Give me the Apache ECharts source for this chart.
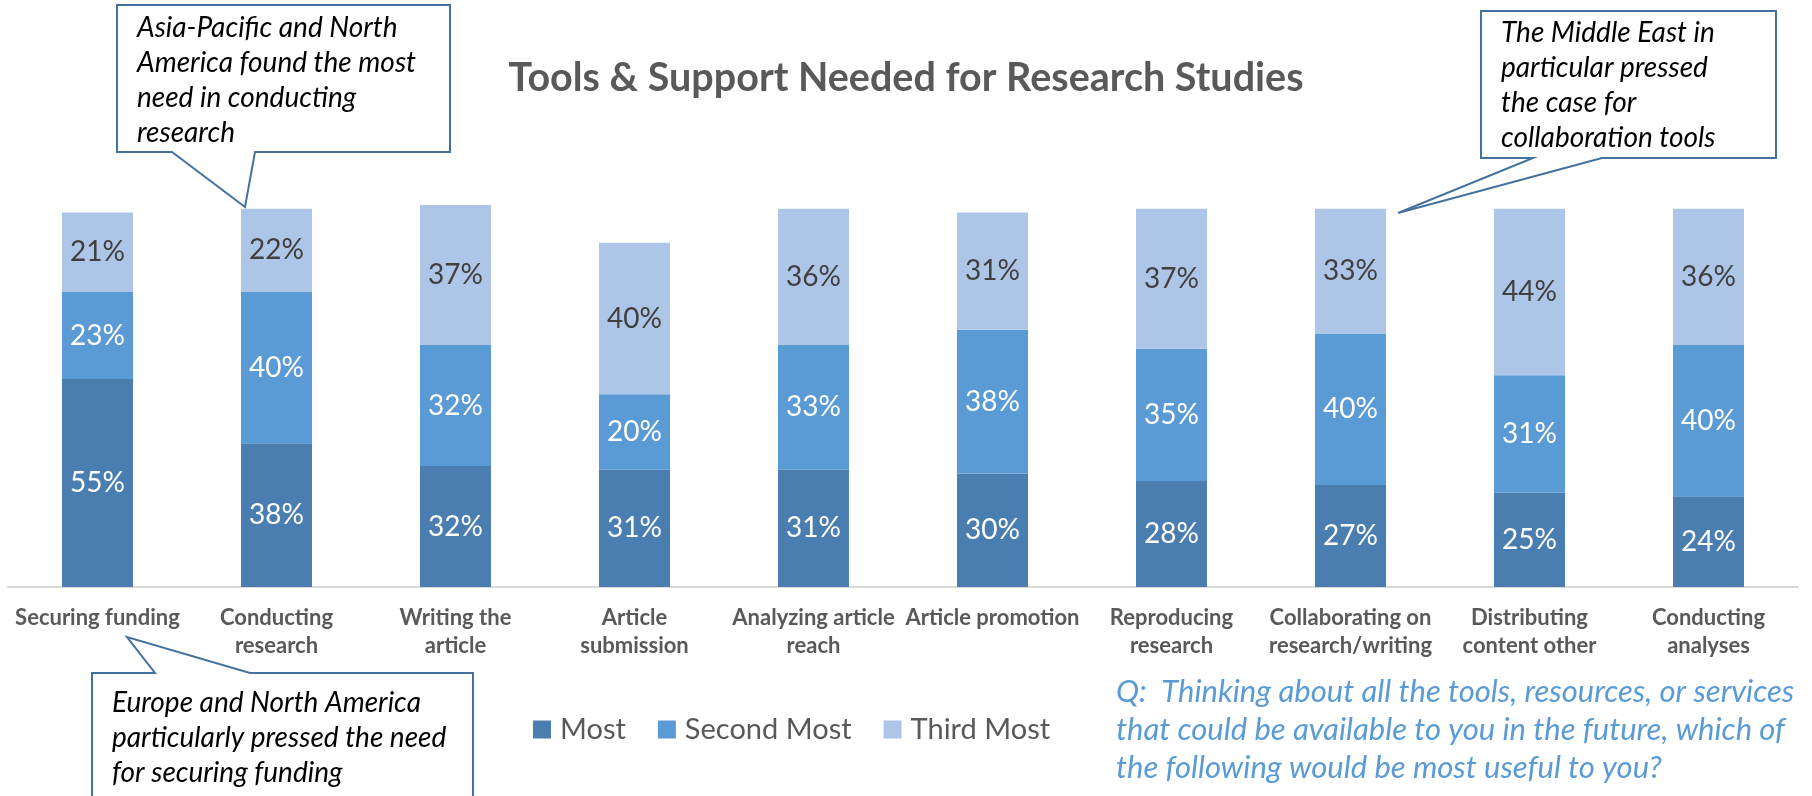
<!DOCTYPE html>
<html>
<head>
<meta charset="utf-8">
<script src="https://cdn.jsdelivr.net/npm/echarts@6/dist/echarts.min.js"></script>
<style>html,body{margin:0;padding:0;background:#fff}#c{width:1812px;height:796px}</style>
</head>
<body>
<div id="c"></div>
<script>
const categories = ['Securing funding','Conducting\nresearch','Writing the\narticle','Article\nsubmission','Analyzing article\nreach','Article promotion','Reproducing\nresearch','Collaborating on\nresearch/writing','Distributing\ncontent other','Conducting\nanalyses'];
const most = [55,38,32,31,31,30,28,27,25,24];
const secondMost = [23,40,32,20,33,38,35,40,31,40];
const thirdMost = [21,22,37,40,36,31,37,33,44,36];
const seriesNames = ['Most','Second Most','Third Most'];
const title = 'Tools & Support Needed for Research Studies';
const question = 'Q:  Thinking about all the tools, resources, or services\nthat could be available to you in the future, which of\nthe following would be most useful to you?';
const note1 = 'Asia-Pacific and North\nAmerica found the most\nneed in conducting\nresearch';
const note2 = 'The Middle East in\nparticular pressed\nthe case for\ncollaboration tools';
const note3 = 'Europe and North America\nparticularly pressed the need\nfor securing funding';

const FONT = 'Lato';
const colors = ['#4a7eb0','#5a9ad5','#adc5e6'];
const lineColor = '#44729e';

function mkSeries(name, data, color, labelColor) {
  return {
    name, type: 'bar', stack: 'total', data, barWidth: 71,
    itemStyle: { color },
    label: { show: true, position: 'inside', formatter: '{c}%', color: labelColor, fontFamily: FONT, fontSize: 28 }
  };
}

const chart = echarts.init(document.getElementById('c'));
chart.setOption({
  animation: false,
  backgroundColor: '#fff',
  title: {
    text: title, left: 'center', top: 53,
    textStyle: { fontFamily: FONT, fontSize: 39.5, fontWeight: 'bold', color: '#595959' }
  },
  legend: {
    data: seriesNames, left: 528, top: 710, icon: 'rect', itemWidth: 18, itemHeight: 18, itemGap: 32,
    textStyle: { fontFamily: FONT, fontSize: 29, color: '#595959', padding: [0,0,0,4] }
  },
  grid: { left: 8, right: 14, top: 171, bottom: 209 },
  xAxis: {
    type: 'category', data: categories,
    axisLine: { lineStyle: { color: '#d9d9d9', width: 2 } },
    axisTick: { show: false },
    axisLabel: { interval: 0, margin: 17, fontFamily: FONT, fontSize: 22, fontWeight: 'bold', color: '#595959', lineHeight: 28 }
  },
  yAxis: { type: 'value', min: 0, max: 110, show: false, splitLine: { show: false } },
  series: [
    mkSeries(seriesNames[0], most, colors[0], '#ffffff'),
    mkSeries(seriesNames[1], secondMost, colors[1], '#ffffff'),
    mkSeries(seriesNames[2], thirdMost, colors[2], '#404040')
  ],
  graphic: [
    { type: 'polygon', shape: { points: [[117,5],[450,5],[450,152],[255,152],[245,207],[172,152],[117,152]] },
      style: { fill: '#fff', stroke: lineColor, lineWidth: 2 }, z: 10 },
    { type: 'text', left: 137, top: 10, z: 11,
      style: { text: note1, fontFamily: FONT, fontStyle: 'italic', fontSize: 28, lineHeight: 35, fill: '#000' } },
    { type: 'polygon', shape: { points: [[1481,11],[1776,11],[1776,158],[1602,158],[1398,213],[1533,158],[1481,158]] },
      style: { fill: '#fff', stroke: lineColor, lineWidth: 2 }, z: 10 },
    { type: 'text', left: 1501, top: 15, z: 11,
      style: { text: note2, fontFamily: FONT, fontStyle: 'italic', fontSize: 28, lineHeight: 35, fill: '#000' } },
    { type: 'polygon', shape: { points: [[92,673],[155,673],[127,637],[250,673],[473,673],[473,810],[92,810]] },
      style: { fill: '#fff', stroke: lineColor, lineWidth: 2 }, z: 10 },
    { type: 'text', left: 112, top: 685, z: 11,
      style: { text: note3, fontFamily: FONT, fontStyle: 'italic', fontSize: 28, lineHeight: 35, fill: '#000' } },
    { type: 'text', left: 1116, top: 673, z: 11,
      style: { text: question, fontFamily: FONT, fontStyle: 'italic', fontSize: 31, lineHeight: 38, fill: '#5b9bd5' } }
  ]
});
</script>
</body>
</html>
